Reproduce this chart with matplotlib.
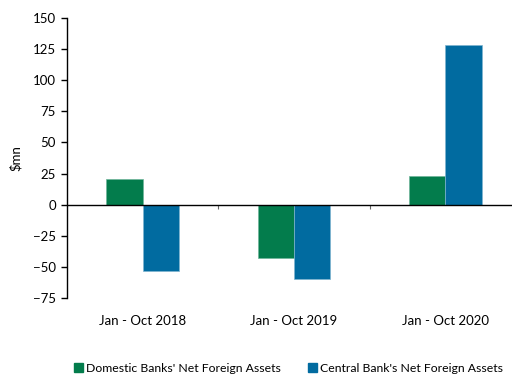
import numpy as np
import matplotlib.pyplot as plt
from matplotlib.patches import Patch
from matplotlib.transforms import ScaledTranslation

periods = ["Jan - Oct 2018", "Jan - Oct 2019", "Jan - Oct 2020"]
domestic = [21, -43, 23]
central = [-53, -60, 128]
series_names = ["Domestic Banks' Net Foreign Assets", "Central Bank's Net Foreign Assets"]

green = "#037c4c"
blue = "#016ba0"

plt.rcParams["font.family"] = ["Lato", "DejaVu Sans"]

fig = plt.figure(figsize=(5.12, 3.75), dpi=100)
ax = fig.add_axes([67 / 512, 1 - 298 / 375, 454 / 512, 280 / 375])

x = np.arange(len(periods))
w = 0.24
ax.bar(x - w / 2, domestic, w, color=green, edgecolor="#6fb59a", linewidth=0.5)
ax.bar(x + w / 2, central, w, color=blue, edgecolor="#7fb4d0", linewidth=0.5)

ax.set_xlim(-0.5, 2.5)
ax.set_ylim(-75, 150)
ax.set_yticks(np.arange(-75, 151, 25))
ax.tick_params(axis="y", direction="out", length=4, width=1, labelsize=9.5, pad=4)

ax.axhline(0, color="black", linewidth=1)
ax.set_xticks(x)
ax.set_xticklabels(periods, fontsize=9.5)
ax.tick_params(axis="x", length=0, pad=12)
ax.set_xticks([0.5, 1.5], minor=True)
ax.tick_params(axis="x", which="minor", length=3, width=0.8, color="#666666")
# move the category separators up to the zero line
shift = (75 / 225) * ax.get_position().height * 3.75
for t in ax.xaxis.get_minor_ticks():
    t.tick1line.set_transform(ax.get_xaxis_transform() + ScaledTranslation(0, shift, fig.dpi_scale_trans))

for side in ["top", "right", "bottom"]:
    ax.spines[side].set_visible(False)
ax.spines["left"].set_linewidth(1)

ax.set_ylabel("$mn", fontsize=9.5, labelpad=8)

handles = [Patch(color=green), Patch(color=blue)]
fig.legend(handles, series_names, loc="center", bbox_to_anchor=(0.563, 0.017), ncol=2,
           frameon=False, fontsize=8.8, handlelength=0.75, handleheight=0.75,
           handletextpad=0.25, columnspacing=2.2, borderpad=0)

fig.savefig("out.png", dpi=100)
